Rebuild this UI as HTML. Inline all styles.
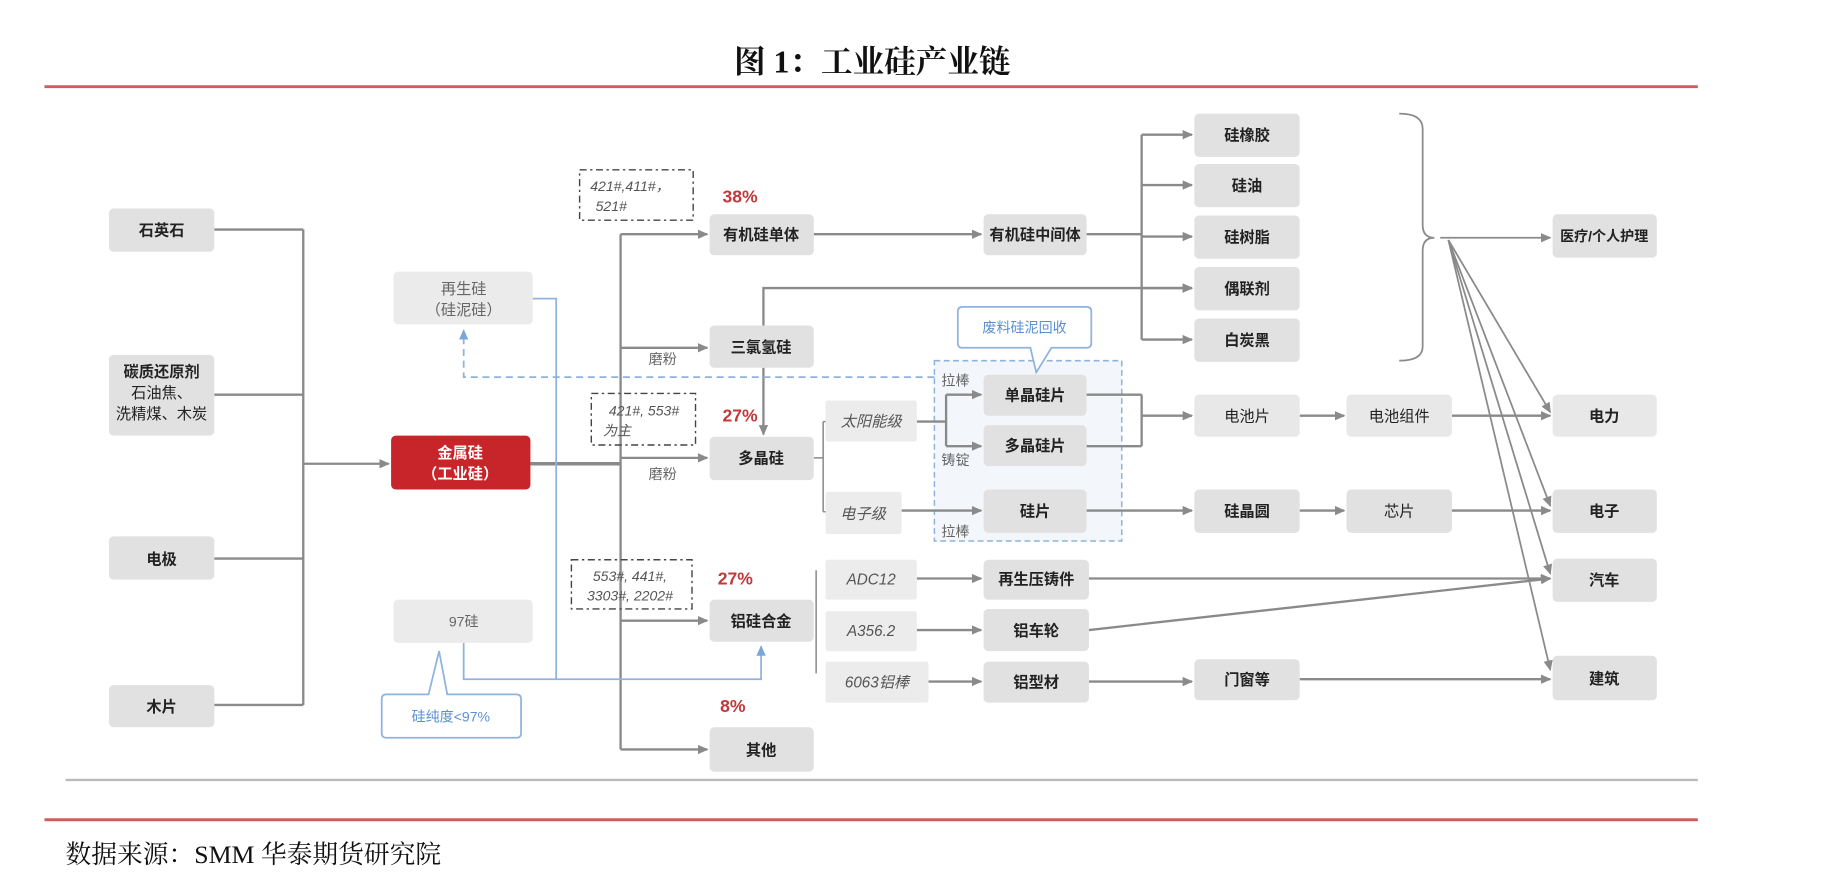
<!DOCTYPE html>
<html><head><meta charset="utf-8"><style>
html,body{margin:0;padding:0;background:#fff;}
svg{display:block;}
text{font-family:"Liberation Sans","Noto Sans CJK SC",sans-serif;}
.b{fill:#e1e1e1;}
.t{font-size:13px;font-weight:bold;fill:#222;text-anchor:middle;}
.g{font-size:12px;fill:#666;text-anchor:middle;}
.i{font-size:12px;font-style:italic;fill:#555;text-anchor:middle;}
.l{fill:none;stroke:#8a8a8a;stroke-width:2;}
.bl{fill:none;stroke:#8fb3dc;stroke-width:1.5;}
.p{font-size:15px;font-weight:bold;fill:#c0393b;}
</style></head><body>
<svg width="1836" height="890" viewBox="0 0 1568 760" preserveAspectRatio="none" xmlns="http://www.w3.org/2000/svg">
<defs>
<marker id="a" markerWidth="10" markerHeight="10" refX="8" refY="5" orient="auto" markerUnits="userSpaceOnUse"><path d="M0,1 L9,5 L0,9 z" fill="#8a8a8a"/></marker>
<marker id="ab" markerWidth="10" markerHeight="10" refX="8" refY="5" orient="auto" markerUnits="userSpaceOnUse"><path d="M0,1 L9,5 L0,9 z" fill="#7aa6d8"/></marker>
</defs>
<text x="745" y="62" style="font-family:'Liberation Serif','Noto Serif CJK SC',serif;font-size:27px;font-weight:bold;text-anchor:middle;fill:#111">图 1：工业硅产业链</text>
<line x1="38" y1="74" x2="1450" y2="74" stroke="#c9605e" stroke-width="2.5"/>
<line x1="56" y1="666" x2="1450" y2="666" stroke="#bbb" stroke-width="2"/>
<line x1="38" y1="700" x2="1450" y2="700" stroke="#c9605e" stroke-width="2.5"/>
<text x="56" y="737" style="font-family:'Liberation Serif','Noto Serif CJK SC',serif;font-size:22px;fill:#111">数据来源：SMM 华泰期货研究院</text>

<rect x="798" y="308" width="160" height="154" fill="#f3f7fc" stroke="#8fb3dc" stroke-width="1.3" stroke-dasharray="5,3"/>

<g class="l">
<path d="M183,196 H259 M183,337 H259 M183,477 H259 M183,602 H259 M259,196 V602"/>
<path d="M259,396 H332" marker-end="url(#a)"/>
<path d="M453,396 H530" stroke-width="3"/>
<path d="M530,200 V640"/>
<path d="M530,200 H604" marker-end="url(#a)"/>
<path d="M530,297 H604" marker-end="url(#a)"/>
<path d="M530,391 H604" marker-end="url(#a)"/>
<path d="M530,530 H604" marker-end="url(#a)"/>
<path d="M530,640 H604" marker-end="url(#a)"/>
<path d="M695,200 H838" marker-end="url(#a)"/>
<path d="M928,200 H975 M975,115 V290"/>
<path d="M975,115 H1018" marker-end="url(#a)"/>
<path d="M975,158 H1018" marker-end="url(#a)"/>
<path d="M975,202 H1018" marker-end="url(#a)"/>
<path d="M975,246 H1018" marker-end="url(#a)"/>
<path d="M975,290 H1018" marker-end="url(#a)"/>
<path d="M652,278 V246 H1018" marker-end="url(#a)"/>
<path d="M652,314 V371" marker-end="url(#a)"/>
<path d="M695,391 H703 M703,360 V437 M703,360 H705 M703,437 H705" stroke-width="1.3"/>
<path d="M783,360 H808 M808,337 V381"/>
<path d="M808,337 H838" marker-end="url(#a)"/>
<path d="M808,381 H838" marker-end="url(#a)"/>
<path d="M770,436 H838" marker-end="url(#a)"/>
<path d="M928,337 H975 M928,381 H975 M975,337 V381"/>
<path d="M975,355 H1018" marker-end="url(#a)"/>
<path d="M1110,355 H1148" marker-end="url(#a)"/>
<path d="M1240,355 H1324" marker-end="url(#a)"/>
<path d="M928,436 H1018" marker-end="url(#a)"/>
<path d="M1110,436 H1148" marker-end="url(#a)"/>
<path d="M1240,436 H1324" marker-end="url(#a)"/>
<path d="M697,487 V575" stroke-width="1.3"/>
<path d="M783,494 H838" marker-end="url(#a)"/>
<path d="M783,538 H838" marker-end="url(#a)"/>
<path d="M793,582 H838" marker-end="url(#a)"/>
<path d="M930,494 H1324" marker-end="url(#a)"/>
<path d="M930,538 L1324,494" marker-end="url(#a)"/>
<path d="M930,582 H1018" marker-end="url(#a)"/>
<path d="M1110,580 H1324" marker-end="url(#a)"/>
<path d="M1195,97 Q1215,97 1215,110 V192 Q1215,203 1225,203 Q1215,203 1215,214 V296 Q1215,308 1195,308" stroke-width="1.5"/>
<path d="M1230,203 H1324" marker-end="url(#a)" stroke-width="1.5"/>
<path d="M1237,205 L1324,352" marker-end="url(#a)" stroke-width="1.5"/>
<path d="M1237,205 L1324,432" marker-end="url(#a)" stroke-width="1.5"/>
<path d="M1237,205 L1324,490" marker-end="url(#a)" stroke-width="1.5"/>
<path d="M1237,205 L1324,572" marker-end="url(#a)" stroke-width="1.5"/>
</g>

<path class="bl" d="M455,255 H475 V580"/>
<path class="bl" d="M396,549 V580 H650 V552" marker-end="url(#ab)"/>
<path class="bl" d="M798,322 H396 V282" stroke-dasharray="6,4" marker-end="url(#ab)"/>

<path d="M330,593 H366 L375,556 L382,593 H441 Q445,593 445,597 V626 Q445,630 441,630 H330 Q326,630 326,626 V597 Q326,593 330,593 z" fill="#fff" stroke="#8fb3dc" stroke-width="1.5"/>
<text x="385" y="616" style="font-size:12px;fill:#5b8fd0;text-anchor:middle">硅纯度&lt;97%</text>
<path d="M822,262 H928 Q932,262 932,266 V293 Q932,297 928,297 H898 L885,318 L880,297 H822 Q818,297 818,293 V266 Q818,262 822,262 z" fill="#fff" stroke="#8fb3dc" stroke-width="1.5"/>
<text x="875" y="284" style="font-size:12px;fill:#5b8fd0;text-anchor:middle">废料硅泥回收</text>

<g fill="none" stroke="#444" stroke-width="1.2" stroke-dasharray="6,3,2,3">
<rect x="495" y="145" width="97" height="43"/>
<rect x="505" y="336" width="89" height="44"/>
<rect x="488" y="478" width="103" height="42"/>
</g>
<text x="538" y="163" class="i">421#,411#，</text><text x="522" y="180" class="i">521#</text>
<text x="550" y="355" class="i">421#, 553#</text><text x="527" y="372" class="i">为主</text>
<text x="538" y="496" class="i">553#, 441#,</text><text x="538" y="513" class="i">3303#, 2202#</text>

<text x="617" y="173" class="p">38%</text>
<text x="617" y="360" class="p">27%</text>
<text x="613" y="499" class="p">27%</text>
<text x="615" y="608" class="p">8%</text>
<text x="566" y="311" class="g">磨粉</text>
<text x="566" y="409" class="g">磨粉</text>
<text x="816" y="329" class="g">拉棒</text>
<text x="816" y="397" class="g">铸锭</text>
<text x="816" y="458" class="g">拉棒</text>

<g class="b">
<rect x="93" y="178" width="90" height="37" rx="4"/>
<rect x="93" y="303" width="90" height="69" rx="4"/>
<rect x="93" y="458" width="90" height="37" rx="4"/>
<rect x="93" y="585" width="90" height="36" rx="4"/>
<rect x="336" y="232" width="119" height="45" rx="4" fill="#ebebeb"/>
<rect x="336" y="512" width="119" height="37" rx="4" fill="#ebebeb"/>
<rect x="606" y="183" width="89" height="35" rx="4"/>
<rect x="606" y="278" width="89" height="36" rx="4"/>
<rect x="606" y="373" width="89" height="37" rx="4"/>
<rect x="606" y="512" width="89" height="36" rx="4"/>
<rect x="606" y="621" width="89" height="38" rx="4"/>
<rect x="840" y="183" width="88" height="35" rx="4"/>
<rect x="1020" y="97" width="90" height="37" rx="4"/>
<rect x="1020" y="140" width="90" height="37" rx="4"/>
<rect x="1020" y="184" width="90" height="37" rx="4"/>
<rect x="1020" y="228" width="90" height="37" rx="4"/>
<rect x="1020" y="272" width="90" height="37" rx="4"/>
<rect x="705" y="342" width="78" height="35" rx="2" fill="#ececec"/>
<rect x="705" y="420" width="65" height="36" rx="2" fill="#ececec"/>
<rect x="840" y="320" width="88" height="35" rx="4"/>
<rect x="840" y="363" width="88" height="35" rx="4"/>
<rect x="840" y="418" width="88" height="37" rx="4"/>
<rect x="1020" y="337" width="90" height="36" rx="4" fill="#e8e8e8"/>
<rect x="1150" y="337" width="90" height="36" rx="4" fill="#e8e8e8"/>
<rect x="1326" y="337" width="89" height="36" rx="4" fill="#e8e8e8"/>
<rect x="1020" y="418" width="90" height="37" rx="4"/>
<rect x="1150" y="418" width="90" height="37" rx="4"/>
<rect x="1326" y="418" width="89" height="37" rx="4"/>
<rect x="705" y="478" width="78" height="34" rx="2" fill="#ececec"/>
<rect x="705" y="522" width="78" height="34" rx="2" fill="#ececec"/>
<rect x="705" y="565" width="88" height="35" rx="2" fill="#ececec"/>
<rect x="840" y="478" width="90" height="34" rx="4"/>
<rect x="840" y="520" width="90" height="36" rx="4"/>
<rect x="840" y="565" width="90" height="35" rx="4"/>
<rect x="1020" y="563" width="90" height="35" rx="4"/>
<rect x="1326" y="183" width="89" height="37" rx="4"/>
<rect x="1326" y="477" width="89" height="37" rx="4"/>
<rect x="1326" y="560" width="89" height="38" rx="4"/>
</g>
<rect x="334" y="372" width="119" height="46" rx="4" fill="#c8252a"/>
<text x="393" y="391" class="t" style="fill:#fff">金属硅</text>
<text x="393" y="409" class="t" style="fill:#fff">（工业硅）</text>

<text x="138" y="201" class="t">石英石</text>
<text x="138" y="322" class="t">碳质还原剂</text>
<text x="138" y="340" class="t" style="font-weight:normal">石油焦、</text>
<text x="138" y="358" class="t" style="font-weight:normal">洗精煤、木炭</text>
<text x="138" y="482" class="t">电极</text>
<text x="138" y="608" class="t">木片</text>
<text x="396" y="251" class="g" style="font-size:13px">再生硅</text>
<text x="396" y="269" class="g" style="font-size:13px">（硅泥硅）</text>
<text x="396" y="535" class="g">97硅</text>
<text x="650" y="205" class="t">有机硅单体</text>
<text x="650" y="301" class="t">三氯氢硅</text>
<text x="650" y="396" class="t">多晶硅</text>
<text x="650" y="535" class="t">铝硅合金</text>
<text x="650" y="645" class="t">其他</text>
<text x="884" y="205" class="t">有机硅中间体</text>
<text x="1065" y="120" class="t">硅橡胶</text>
<text x="1065" y="163" class="t">硅油</text>
<text x="1065" y="207" class="t">硅树脂</text>
<text x="1065" y="251" class="t">偶联剂</text>
<text x="1065" y="295" class="t">白炭黑</text>
<text x="744" y="364" class="i" style="font-size:13px">太阳能级</text>
<text x="737" y="443" class="i" style="font-size:13px">电子级</text>
<text x="884" y="342" class="t">单晶硅片</text>
<text x="884" y="385" class="t">多晶硅片</text>
<text x="884" y="441" class="t">硅片</text>
<text x="1065" y="360" class="t" style="font-weight:normal">电池片</text>
<text x="1195" y="360" class="t" style="font-weight:normal">电池组件</text>
<text x="1370" y="360" class="t">电力</text>
<text x="1065" y="441" class="t">硅晶圆</text>
<text x="1195" y="441" class="t" style="font-weight:normal">芯片</text>
<text x="1370" y="441" class="t">电子</text>
<text x="744" y="499" class="i" style="font-size:13px">ADC12</text>
<text x="744" y="543" class="i" style="font-size:13px">A356.2</text>
<text x="749" y="587" class="i" style="font-size:13px">6063铝棒</text>
<text x="885" y="499" class="t">再生压铸件</text>
<text x="885" y="543" class="t">铝车轮</text>
<text x="885" y="587" class="t">铝型材</text>
<text x="1065" y="585" class="t">门窗等</text>
<text x="1370" y="206" class="t" style="font-size:12px">医疗/个人护理</text>
<text x="1370" y="500" class="t">汽车</text>
<text x="1370" y="584" class="t">建筑</text>
</svg>
</body></html>
